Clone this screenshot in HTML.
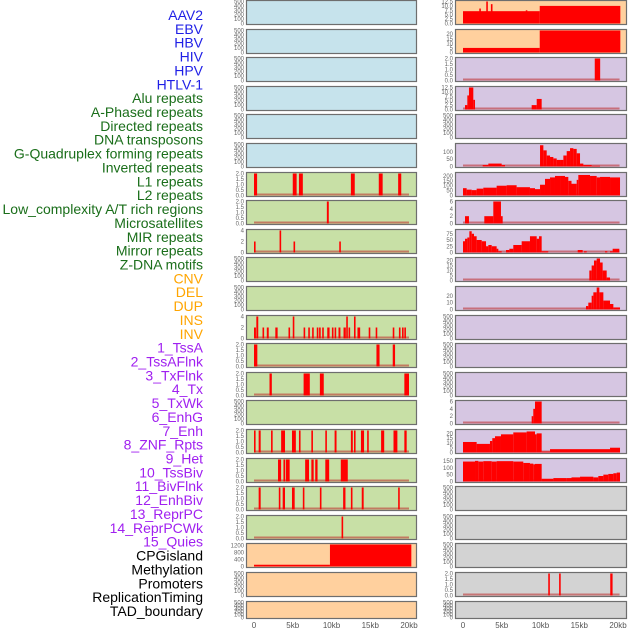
<!DOCTYPE html>
<html><head><meta charset="utf-8"><style>
html,body{margin:0;padding:0;background:#fff;width:630px;height:630px;overflow:hidden}
svg{display:block}
</style></head><body>
<svg id="c" width="630" height="630" xmlns="http://www.w3.org/2000/svg"></svg>
<script>
// ---- labels ----
const trackLabels = ["AAV2","EBV","HBV","HIV","HPV","HTLV-1","Alu repeats","A-Phased repeats","Directed repeats","DNA transposons","G-Quadruplex forming repeats","Inverted repeats","L1 repeats","L2 repeats","Low_complexity A/T rich regions","Microsatellites","MIR repeats","Mirror repeats","Z-DNA motifs","CNV","DEL","DUP","INS","INV","1_TssA","2_TssAFlnk","3_TxFlnk","4_Tx","5_TxWk","6_EnhG","7_Enh","8_ZNF_Rpts","9_Het","10_TssBiv","11_BivFlnk","12_EnhBiv","13_ReprPC","14_ReprPCWk","15_Quies","CPGisland","Methylation","Promoters","ReplicationTiming","TAD_boundary"];
const labelColors = ["#1f1fe6","#1f1fe6","#1f1fe6","#1f1fe6","#1f1fe6","#1f1fe6","#1a6e1a","#1a6e1a","#1a6e1a","#1a6e1a","#1a6e1a","#1a6e1a","#1a6e1a","#1a6e1a","#1a6e1a","#1a6e1a","#1a6e1a","#1a6e1a","#1a6e1a","#ffa500","#ffa500","#ffa500","#ffa500","#ffa500","#a020f0","#a020f0","#a020f0","#a020f0","#a020f0","#a020f0","#a020f0","#a020f0","#a020f0","#a020f0","#a020f0","#a020f0","#a020f0","#a020f0","#a020f0","#000","#000","#000","#000","#000"];
const xTicks = [0,5,10,15,20];
const xTickLabels = ["0","5kb","10kb","15kb","20kb"];

// ---- tick sets ----
const ticksEmpty = [0,100,200,300,400,500];
const ticks2 = [0,0.5,1.0,1.5,2.0];
const ticks4 = [0,2,4];

// ---- left column data [startKb, endKb, value] ----
const leftRow6 = [[0,0.4,2],[5.0,5.5,2],[5.8,6.3,2],[12.5,13.0,2],[16.1,16.6,2],[18.6,19.0,2]];
const leftRow7 = [[9.4,9.65,2]];
const leftRow8 = [[0,0.2,2],[3.3,3.5,4],[5.1,5.3,2],[11.0,11.2,2]];
const leftRow11 = [[0,0.25,2],[0.3,0.55,4],[1.1,1.3,2],[1.65,1.9,2],[2.75,3.05,2],[4.45,4.65,2],[5.0,5.2,4],[6.4,6.6,2],[7.0,7.2,2],[7.5,7.7,2],[8.1,8.3,2],[8.4,8.6,2],[8.8,9.0,2],[9.45,9.75,2],[10.05,10.25,2],[10.4,10.6,2],[10.9,11.15,2],[11.55,11.85,2],[11.9,12.1,4],[12.2,12.4,2],[12.9,13.1,4],[13.35,13.7,2],[14.8,15.0,2],[15.7,15.9,2],[17.9,18.1,2],[18.7,18.9,2],[19.1,19.3,2],[19.4,19.6,2]];
const leftRow12 = [[0,0.43,2],[15.8,16.2,2],[17.9,18.2,2]];
const leftRow13 = [[2.0,2.3,2],[6.4,7.2,2],[8.5,9.0,2],[19.4,20.0,2]];
const leftRow15 = [[0,0.17,2],[0.6,0.86,2],[2.2,2.4,2],[3.5,4.0,2],[4.9,5.4,2],[5.8,6.0,2],[7.4,7.6,2],[9.2,9.4,2],[10.4,10.65,2],[12.5,12.75,2],[12.9,13.1,2],[13.8,14.2,2],[14.6,14.8,2],[16.4,16.8,2],[18.0,18.5,2],[19.4,19.7,2]];
const leftRow16 = [[3.1,3.5,2],[3.8,4.0,2],[4.1,4.6,2],[6.6,7.1,2],[7.4,7.7,2],[7.9,8.2,2],[9.2,9.7,2],[11.2,12.1,2]];
const leftRow17 = [[0.6,0.86,2],[3.2,3.4,2],[3.7,4.0,2],[4.9,5.25,2],[6.3,6.5,2],[8.5,8.7,2],[11.5,11.8,2],[12.5,12.7,2],[13.9,14.15,2],[18.6,18.8,2]];
const leftRow18 = [[11.3,11.5,2]];
const leftRow19 = [[0,9.8,100],[9.8,20.3,1250]];

// ---- right column data ----
const rightRow0 = [[0,9.9,7],[2.1,2.3,8.5],[3.0,3.2,12.5],[3.6,3.8,11],[8.1,8.3,7.5],[9.9,20.3,10]];
const rightRow1 = [[0,9.9,5],[9.9,20.3,24]];
const rightRow2 = [[17.0,17.7,2]];
const rightRow3 = [[0.26,0.56,2.5],[0.56,0.77,8],[0.77,1.33,12.5],[1.33,1.55,5.5],[8.86,9.51,2.5],[9.51,10.15,6]];
const rightRow5 = [[2.54,3.27,10],[3.27,4.99,20],[4.99,5.42,10],[9.94,10.37,145],[10.37,10.8,110],[10.8,11.23,75],[11.23,11.66,65],[11.66,12.09,55],[12.09,12.52,45],[12.52,12.95,45],[12.95,13.38,75],[13.38,13.81,105],[13.81,14.24,125],[14.24,14.67,120],[14.67,15.1,90],[15.1,15.53,20],[15.53,16.6,10],[16.6,17.68,5]];
const rightRow6 = [[0,0.47,75],[0.47,1.12,60],[1.12,1.76,55],[1.76,2.62,70],[2.62,4.34,80],[4.34,5.63,100],[5.63,6.92,105],[6.92,8.64,85],[8.64,9.29,75],[9.29,9.94,65],[9.94,10.58,110],[10.58,11.23,170],[11.23,11.87,185],[11.87,12.52,200],[12.52,13.16,200],[13.16,13.59,190],[13.59,14.0,150],[14.0,14.67,120],[14.67,14.88,160],[14.88,16.39,210],[16.39,17.25,200],[17.25,17.68,185],[17.68,18.97,190],[18.97,20.26,185]];
const rightRow7 = [[0.26,0.77,2],[2.75,3.91,2],[3.91,4.9,6],[4.9,5.12,2]];
const rightRow8 = [[0,0.26,45],[0.26,0.56,55],[0.56,0.82,60],[0.82,1.12,85],[1.12,1.42,75],[1.42,1.76,65],[1.76,2.41,50],[2.41,2.97,45],[2.97,3.27,25],[3.27,3.7,30],[3.7,4.34,25],[4.34,4.56,15],[4.56,4.99,5],[5.55,5.98,10],[5.98,6.49,15],[6.49,7.57,30],[7.57,8.64,45],[8.64,9.51,65],[9.51,9.81,55],[9.81,10.15,65],[10.15,11.0,5],[14.8,15.44,10],[15.61,15.96,5],[18.32,18.62,5],[18.97,19.31,5],[19.31,19.61,15],[19.61,20.17,15]];
const rightRow9 = [[16.3,16.6,10],[16.6,16.9,15],[16.9,17.25,20],[17.25,17.68,22],[17.68,18.02,18],[18.02,18.54,10],[18.54,18.97,3]];
const rightRow10 = [[15.87,16.17,5],[16.17,16.6,10],[16.6,16.82,20],[16.82,17.25,25],[17.25,17.59,32],[17.59,18.11,25],[18.11,18.97,13],[18.97,19.4,8],[19.4,20.26,3]];
const rightRow14 = [[8.86,9.07,2],[9.07,9.29,4],[9.29,10.15,6]];
const rightRow15 = [[0,1.76,11],[1.76,3.48,9],[3.48,3.78,12],[3.78,4.13,15],[4.13,4.9,17],[4.9,6.49,19],[6.49,8.21,21],[8.21,9.29,22],[9.29,9.51,19],[9.51,10.15,20],[10.15,11.23,1],[11.23,18.97,3.5],[18.97,20.26,5]];
const rightRow16 = [[0,1.55,145],[1.55,1.98,150],[1.98,2.62,145],[2.62,3.7,148],[3.7,4.34,145],[4.34,6.49,148],[6.49,7.78,145],[7.78,8.64,135],[8.64,9.07,130],[9.07,9.29,125],[9.29,10.15,128],[10.15,11.66,20],[11.66,13.38,25],[13.38,14.0,25],[14.0,15.1,30],[15.1,16.82,35],[16.82,17.46,30],[17.46,18.11,40],[18.11,18.75,50],[18.75,19.4,55],[19.4,19.83,60],[19.83,20.26,65]];
const rightRow20 = [[11.0,11.2,2],[12.4,12.6,2],[19.0,19.3,2]];

const BLUE="#c6e3ec", GREEN="#c8e0a6", ORANGE="#ffd09e", PURPLE="#d6c6e2", GRAY="#d3d3d3";
const leftPanels = [
 {bg:BLUE,t:ticksEmpty,ym:500},{bg:BLUE,t:ticksEmpty,ym:500},{bg:BLUE,t:ticksEmpty,ym:500},{bg:BLUE,t:ticksEmpty,ym:500},{bg:BLUE,t:ticksEmpty,ym:500},{bg:BLUE,t:ticksEmpty,ym:500},
 {bg:GREEN,t:ticks2,ym:2,d:leftRow6},{bg:GREEN,t:ticks2,ym:2,d:leftRow7},{bg:GREEN,t:ticks4,ym:4,d:leftRow8},
 {bg:GREEN,t:ticksEmpty,ym:500},{bg:GREEN,t:ticksEmpty,ym:500},{bg:GREEN,t:ticks4,ym:4,d:leftRow11},
 {bg:GREEN,t:ticks2,ym:2,d:leftRow12},{bg:GREEN,t:ticks2,ym:2,d:leftRow13},{bg:GREEN,t:ticksEmpty,ym:500},
 {bg:GREEN,t:ticks2,ym:2,d:leftRow15},{bg:GREEN,t:ticks2,ym:2,d:leftRow16},{bg:GREEN,t:ticks2,ym:2,d:leftRow17},{bg:GREEN,t:ticks2,ym:2,d:leftRow18},
 {bg:ORANGE,t:[0,400,800,1200],ym:1250,d:leftRow19,nobase:true},{bg:ORANGE,t:ticksEmpty,ym:500},{bg:ORANGE,t:ticksEmpty,ym:500}
];
const rightPanels = [
 {bg:ORANGE,t:[0,2.5,5,7.5,10,12.5],ym:12.5,d:rightRow0,nobase:true,fmt:1},{bg:ORANGE,t:[0,5,10,15,20],ym:24,d:rightRow1,nobase:true},
 {bg:PURPLE,t:ticks2,ym:2,d:rightRow2},{bg:PURPLE,t:[0,2.5,5,7.5,10,12.5],ym:12.5,d:rightRow3,fmt:1},{bg:PURPLE,t:ticksEmpty,ym:500},
 {bg:PURPLE,t:[0,50,100],ym:150,d:rightRow5},{bg:PURPLE,t:[0,50,100,150,200],ym:225,d:rightRow6},{bg:PURPLE,t:[0,2,4,6],ym:6,d:rightRow7},
 {bg:PURPLE,t:[0,25,50,75],ym:88,d:rightRow8},{bg:PURPLE,t:[0,5,10,15,20],ym:22,d:rightRow9},{bg:PURPLE,t:[0,10,20],ym:32,d:rightRow10},
 {bg:PURPLE,t:ticksEmpty,ym:500},{bg:PURPLE,t:ticksEmpty,ym:500},{bg:PURPLE,t:ticksEmpty,ym:500},
 {bg:PURPLE,t:[0,2,4,6],ym:6,d:rightRow14},{bg:PURPLE,t:[0,5,10,15,20],ym:23,d:rightRow15},{bg:PURPLE,t:[0,50,100,150],ym:160,d:rightRow16},
 {bg:GRAY,t:ticksEmpty,ym:500},{bg:GRAY,t:ticksEmpty,ym:500},{bg:GRAY,t:ticksEmpty,ym:500},{bg:GRAY,t:ticks2,ym:2,d:rightRow20},{bg:GRAY,t:ticksEmpty,ym:500}
];

const svg = document.getElementById('c');
const NS = "http://www.w3.org/2000/svg";
function mk(tag, attrs, parent){ const e=document.createElementNS(NS,tag); for(const k in attrs) e.setAttribute(k,attrs[k]); (parent||svg).appendChild(e); return e; }

// labels
trackLabels.forEach((lab,i)=>{
  const t = mk('text',{x:203,y:(15+i*13.86+5).toFixed(1),'text-anchor':'end','font-family':'Liberation Sans, sans-serif','font-size':'14',fill:labelColors[i]});
  
  
  t.textContent = lab;
});

function fmtTick(v, p){
  if (p.t===ticks2) return v.toFixed(1);
  if (p.fmt===1) return v.toFixed(1);
  return String(v);
}

function drawCol(panels, x0, x1, kb0, name){
  const kbScale = 7.75;
  const xs = kb => kb0 + kb*kbScale;
  panels.forEach((p,i)=>{
    const top = Math.round(i*28.6)+0.5;
    const h = (i===21)?17:24;
    const g = mk('g',{});
    
    
    mk('rect',{x:x0+0.5,y:top,width:x1-x0,height:h,fill:p.bg,stroke:'none'},g);
    const ys = v => top + h - 1 - (v/p.ym)*(h-2);
    if (p.d){
      if(!p.nobase){
        const bl = mk('rect',{x:xs(0),y:top+h-3,width:(name==='right'?20.2:20)*kbScale,height:2,fill:'rgba(190,40,40,0.55)'},g);
        
        
      }
      p.d.forEach(b=>{
        const v = Math.min(b[2],p.ym);
        const y = ys(v);
        const r = mk('rect',{x:xs(b[0]).toFixed(2),y:y.toFixed(2),width:Math.max(1.6,(b[1]-b[0])*kbScale).toFixed(2),height:(top+h-1-y).toFixed(2),fill:'#ff0000'},g);
        
        
      });
    }
    mk('rect',{x:x0+0.5,y:top,width:x1-x0,height:h,fill:'none',stroke:'#6e6e6e','stroke-width':1.2},g);
    p.t.forEach(tv=>{
      const tt = mk('text',{x:x0-2,y:(ys(tv)+2).toFixed(1),'text-anchor':'end','font-family':'Liberation Sans, sans-serif','font-size':'6',fill:'#666'},g);
      
      
      tt.textContent = fmtTick(tv,p);
    });
  });
  xTicks.forEach((kv,j)=>{
    const t = mk('text',{x:xs(kv),y:628,'text-anchor':'middle','font-family':'Liberation Sans, sans-serif','font-size':'8',fill:'#555'});
    
    
    t.textContent = xTickLabels[j];
  });
}
drawCol(leftPanels, 246, 416, 254, 'left');
drawCol(rightPanels, 455, 626, 463, 'right');
</script>
</body></html>
